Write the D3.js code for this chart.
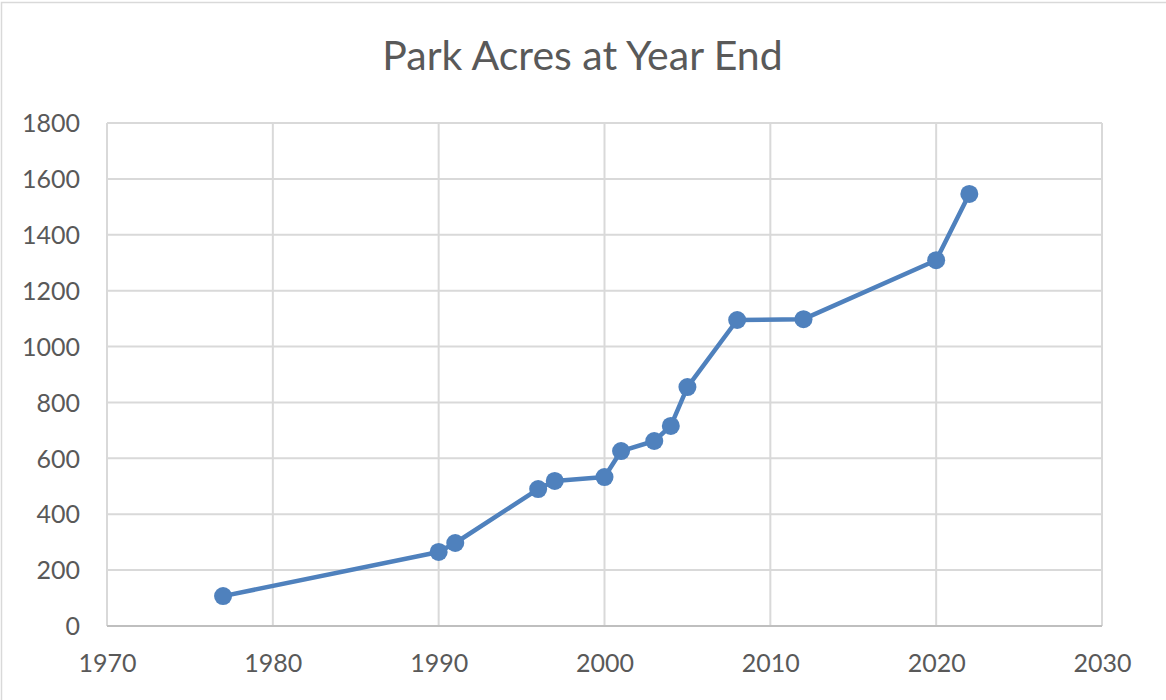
<!DOCTYPE html>
<html>
<head>
<meta charset="utf-8">
<script src="https://cdn.jsdelivr.net/npm/d3@7"></script>
<style>
	body { margin: 0; background: #fff; }
	svg text { font-family: Lato, "Open Sans", sans-serif; fill: #595959; }
</style>
</head>
<body>
<svg id="chart" width="1166" height="700"></svg>
<script>
// values
var years = [1977, 1990, 1991, 1996, 1997, 2000, 2001, 2003, 2004, 2005, 2008, 2012, 2020, 2022];
var acres = [107, 265, 297, 490, 519, 533, 626, 662, 716, 855, 1095, 1098, 1309, 1546];
var xTicks = [1970, 1980, 1990, 2000, 2010, 2020, 2030];
var yTicks = [0, 200, 400, 600, 800, 1000, 1200, 1400, 1600, 1800];
var title = 'Park Acres at Year End';

var svg = d3.select('#chart');
var W = 1166, H = 700;
var margin = {left: 107, right: 64, top: 123, bottom: 74};

// outer chart border (screenshot is cropped, only left and top edges show)
svg.append('rect')
	.attr('x', 1.5).attr('y', 2.5)
	.attr('width', W + 20).attr('height', H + 20)
	.attr('fill', 'none')
	.attr('stroke', '#d9d9d9')
	.attr('stroke-width', 1.5)

var x = d3.scaleLinear().domain([1970, 2030]).range([margin.left, W - margin.right]);
var y = d3.scaleLinear().domain([0, 1800]).range([H - margin.bottom, margin.top]);

// gridlines
svg.append('g').selectAll('line').data(yTicks).enter()
	.append('line')
		.attr('x1', x(1970)).attr('x2', x(2030))
		.attr('y1', function(d){return y(d)}).attr('y2', function(d){return y(d)})
		.attr('stroke', '#d9d9d9')
		.attr('stroke-width', 2)
svg.append('g').selectAll('line').data(xTicks).enter()
	.append('line')
		.attr('x1', function(d){return x(d)}).attr('x2', function(d){return x(d)})
		.attr('y1', y(0)).attr('y2', y(1800))
		.attr('stroke', '#d9d9d9')
		.attr('stroke-width', 2)

// bottom axis line
svg.append('line')
	.attr('x1', x(1970)).attr('x2', x(2030))
	.attr('y1', y(0)).attr('y2', y(0))
	.attr('stroke', '#bfbfbf')
	.attr('stroke-width', 2)

// axes: use d3 axes for the labels only
var yAxis = svg.append('g')
	.attr('transform', 'translate(' + (x(1970) - 27) + ',0)')
	.call(d3.axisLeft(y).tickValues(yTicks).tickSize(0).tickPadding(0).tickFormat(d3.format('d')))
yAxis.select('.domain').remove()
yAxis.selectAll('text').style('font-size', '25px').attr('dy', '0.35em')

var xAxis = svg.append('g')
	.attr('transform', 'translate(0,' + (y(0) + 28) + ')')
	.call(d3.axisBottom(x).tickValues(xTicks).tickSize(0).tickPadding(0).tickFormat(d3.format('d')))
xAxis.select('.domain').remove()
xAxis.selectAll('text').style('font-size', '25px').attr('dy', '0.71em')

// title
svg.append('text')
	.attr('x', (x(1970) + x(2030)) / 2 - 22)
	.attr('y', 70)
	.attr('text-anchor', 'middle')
	.style('font-size', '41px')
	.text(title)

var pts = years.map(function(d, i){ return [d, acres[i]] });

svg.append('path')
	.datum(pts)
	.attr('d', d3.line().x(function(d){return x(d[0])}).y(function(d){return y(d[1])}))
	.attr('fill', 'none')
	.attr('stroke', '#4f81bd')
	.attr('stroke-width', 4.5)
	.attr('stroke-linejoin', 'round')

svg.append('g').selectAll('circle').data(pts).enter()
	.append('circle')
		.attr('cx', function(d){return x(d[0])})
		.attr('cy', function(d){return y(d[1])})
		.attr('r', 9)
		.attr('fill', '#4f81bd')
</script>
</body>
</html>
